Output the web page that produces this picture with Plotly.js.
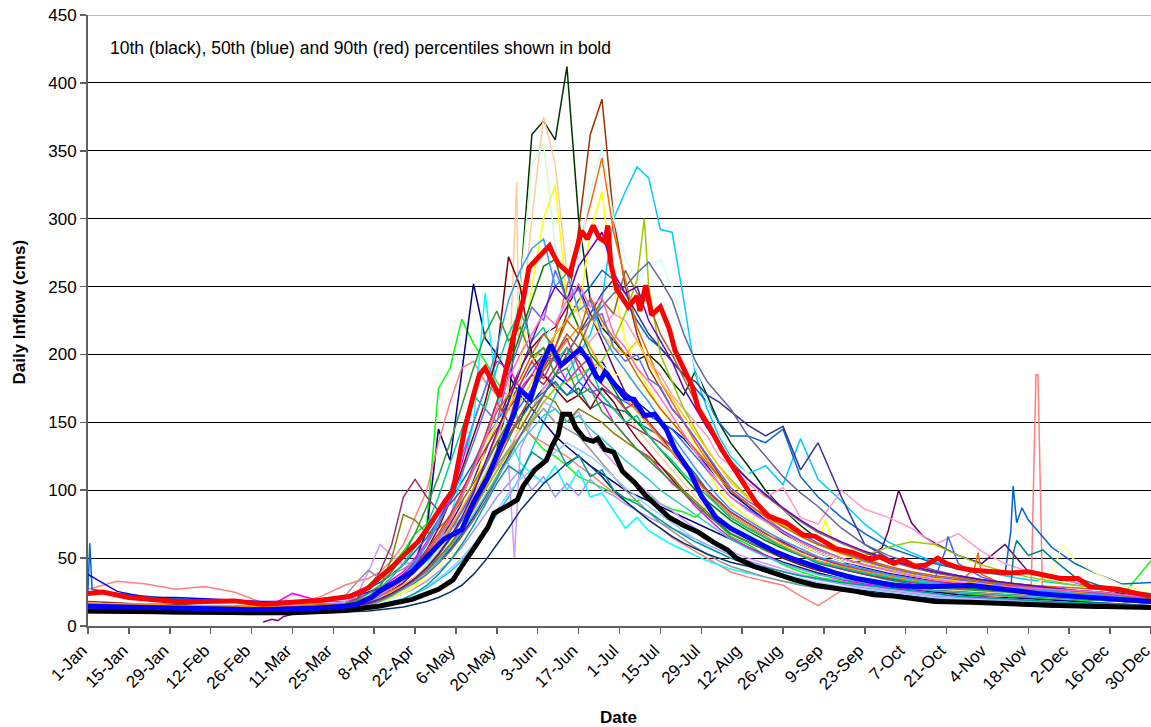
<!DOCTYPE html>
<html><head><meta charset="utf-8">
<script src="https://cdn.plot.ly/plotly-3.0.1.min.js"></script>
<style>html,body{margin:0;padding:0;overflow:hidden;background:#fff}#chart{width:1151px;height:727px}</style>
</head><body><div id="chart"></div>
<script>
// ---- shared day grid (day of year, 0 = 1-Jan) ----
const DAYS = [0,10,20,30,40,50,60,70,80,
  88,92,96,100,104,108,112,116,120,124,128,132,136,140,144,148,152,156,160,164,168,172,176,180,184,188,192,196,200,204,208,212,216,220,
  226,232,238,244,250,
  258,266,274,282,290,298,306,314,322,330,338,346,354,364];

const TICK_DAYS = [0,14,28,42,56,70,84,98,112,126,140,154,168,182,196,210,224,238,252,266,280,294,308,322,336,350,364];
const TICK_LABELS = ['1-Jan','15-Jan','29-Jan','12-Feb','26-Feb','11-Mar','25-Mar','8-Apr','22-Apr','6-May','20-May','3-Jun','17-Jun','1-Jul','15-Jul','29-Jul','12-Aug','26-Aug','9-Sep','23-Sep','7-Oct','21-Oct','4-Nov','18-Nov','2-Dec','16-Dec','30-Dec'];

// ---- yearly series (cms) on DAYS ----
const y01 = [14,13,13,12,12,12,11,12,13, 14,16,18,22,26,30,36,42,50,58,70,88,110,130,165,250,362,372,358,412,300,240,220,210,200,196,200,192,180,170,188,170,150,135, 118,100,86,74,64, 55,48,42,38,34,32,30,28,26,25,23,22,20,19];
const y02 = [18,17,16,16,15,15,14,15,16, 15,17,19,22,26,30,34,40,48,56,66,80,95,110,125,150,175,190,205,230,292,362,388,300,250,215,190,175,160,150,138,125,112,100, 88,78,68,60,54, 48,43,39,36,33,31,29,27,26,24,22,21,20,18];
const y03 = [13,12,12,11,11,11,11,12,12, 12,13,14,16,18,20,24,28,34,40,48,58,70,82,95,110,130,150,170,185,200,215,240,300,320,338,330,292,290,240,185,160,140,125, 112,118,104,138,108, 92,75,62,54,47,44,40,37,34,32,30,28,26,24];
const y04 = [15,14,14,13,13,12,12,13,15, 17,22,30,38,45,55,68,75,175,190,226,208,195,180,168,150,140,130,125,118,110,106,102,98,94,92,96,90,86,84,80,88,75,66, 60,52,45,40,36, 33,30,28,27,25,24,23,22,21,20,19,19,22,48];
const y05 = [12,12,11,11,11,10,10,11,12, 13,15,18,22,28,36,48,70,145,122,185,252,212,200,185,170,160,150,140,132,125,118,112,106,100,96,92,88,84,80,76,72,68,64, 58,52,47,43,39, 35,32,29,27,25,23,22,21,20,19,18,17,16,15];
const y06 = [27,33,31,27,29,25,17,15,22, 30,33,35,40,48,60,80,100,135,165,190,195,180,170,160,150,140,135,130,125,118,112,105,98,92,85,78,72,65,60,55,50,45,40, 36,33,30,22,15, 26,24,22,21,20,20,21,22,27,27,24,22,20,18];
const y07 = [14,13,13,12,12,12,12,24,18, 18,20,24,28,34,40,50,62,78,95,120,150,175,195,190,175,185,200,195,180,190,175,165,150,140,130,125,115,105,98,88,80,72,65, 58,52,46,42,38, 34,31,29,27,26,25,24,23,22,21,20,19,18,17];
const y08 = [13,12,12,12,11,11,11,12,13, 14,16,18,22,26,32,40,50,62,75,90,108,128,150,170,190,205,215,220,235,250,230,210,190,172,160,150,140,128,118,108,100,92,84, 76,68,62,55,50, 45,48,70,76,61,52,46,60,40,36,32,28,24,21];
const y09 = [26,24,22,20,19,18,17,18,20, 22,25,28,32,38,45,55,65,78,92,105,120,138,150,165,178,190,200,215,225,240,250,262,255,240,225,212,205,195,185,175,165,150,140, 140,135,145,110,95, 80,68,58,52,46,42,40,38,78,58,46,38,31,32];
const y10 = [38,25.5,21,21,20,19,18,18,19, 20,22,25,28,32,38,45,54,62,72,85,98,110,125,140,155,165,175,185,178,170,185,195,180,172,165,158,150,145,138,128,118,108,98, 88,78,68,60,54, 48,43,39,36,33,31,29,27,26,25,24,23,21,20];
const y11 = [12,11,11,11,10,10,10,11,12, 13,14,16,18,21,25,30,38,48,62,80,100,130,150,160,190,250,300,325,240,230,290,320,250,210,190,175,160,150,140,128,115,100,90, 80,70,60,52,60, 45,40,36,33,31,29,27,26,25,24,23,22,21,20];
const y12 = [12,11,11,10,10,10,10,11,11, 12,13,15,18,22,28,35,45,60,80,110,150,245,170,140,120,112,105,118,100,115,95,98,85,72,80,70,65,60,56,52,48,45,42, 39,36,33,31,29, 27,25,23,21,20,19,18,18,17,17,16,15,15,14];
const y13 = [11,11,10,10,10,9,9,10,11, 12,13,15,17,20,24,28,33,40,48,58,70,82,95,105,115,100,110,95,105,96,108,100,96,90,85,80,76,72,68,64,60,56,52, 48,44,40,37,34, 31,28,26,24,22,21,20,19,18,17,16,15,15,14];
const y14 = [14,13,13,12,12,12,12,13,15, 18,22,40,60,52,45,48,55,62,72,85,98,110,118,120,130,150,165,160,150,158,140,130,120,112,105,98,90,85,78,72,66,60,55, 50,46,42,38,35, 32,29,27,25,23,22,21,20,19,18,17,16,16,15];
const y15 = [13,12,12,12,11,11,11,12,13, 14,16,19,22,26,30,36,44,54,65,78,92,108,125,140,155,170,190,215,250,280,310,345,290,255,220,200,180,165,150,135,122,110,100, 90,80,70,62,56, 50,45,41,37,34,32,38,30,28,26,25,23,22,20];
const y16 = [17,16,16,15,15,14,14,15,16, 14,16,19,23,28,34,42,52,64,78,95,115,135,150,175,215,300,375,340,260,230,205,185,170,158,145,135,125,115,105,95,86,78,70, 62,55,50,45,41, 37,34,31,29,27,26,25,24,23,22,21,20,19,18];
const y17 = [13,12,12,12,11,11,11,12,13, 13,15,17,20,24,29,36,45,56,70,88,110,135,165,200,250,340,355,280,240,220,200,185,170,160,150,140,130,120,110,100,92,84,76, 68,60,54,48,44, 40,36,33,30,28,27,26,25,24,23,22,21,20,19];
const y18 = [12,12,11,11,11,10,10,11,12, 12,14,16,19,23,28,34,42,52,64,78,95,115,135,155,175,195,210,225,240,270,320,352,300,270,255,265,270,250,220,190,165,145,128, 112,98,86,76,68, 60,54,48,44,40,37,34,32,30,28,26,24,22,20];
const y19 = [12,11,11,11,10,10,10,11,12, 12,13,15,17,20,24,29,35,43,52,64,78,95,112,130,148,165,180,190,200,205,200,192,185,185,178,170,162,155,145,132,120,108,96, 86,76,67,60,54, 48,44,40,37,34,32,31,30,28,38,48,38,30,25];
const y20 = [13,12,12,12,11,11,11,12,13, 13,15,17,20,24,29,35,42,50,60,72,85,100,115,130,145,160,175,185,190,200,210,220,230,225,210,195,185,170,160,150,140,125,118, 105,95,102,80,75, 100,86,80,72,60,68,55,46,40,36,32,29,26,23];
const y21 = [14,13,13,12,12,12,11,12,13, 13,15,17,20,24,28,34,40,48,57,68,80,95,110,125,140,155,170,185,200,215,230,245,255,245,230,215,205,195,185,180,170,165,158, 148,140,147,115,135, 95,60,50,44,40,37,34,32,30,28,26,24,22,20];
const y22 = [14,13,13,12,12,12,12,13,14, 14,16,19,23,28,34,40,48,58,70,84,100,118,135,150,162,175,185,178,170,180,172,175,170,165,160,155,150,145,135,125,115,105,95, 86,78,70,63,57, 50,45,41,38,35,46,36,31,29,27,25,24,22,20];
const y23 = [12,12,11,11,11,10,10,11,12, 13,14,16,19,23,28,34,42,52,64,78,95,112,128,140,152,165,172,180,170,175,160,165,160,158,150,145,140,132,122,112,100,90,82, 74,66,58,52,46, 42,38,34,31,29,28,27,27,52,50,36,30,25,21];
const y24 = [16,15,15,14,14,14,13,14,15, 16,20,28,40,60,95,108,95,85,90,100,115,130,145,160,172,185,178,190,205,195,180,170,160,150,145,140,135,128,118,108,98,88,80, 72,65,58,52,47, 42,38,35,32,30,28,27,26,25,24,23,22,21,20];
const y25 = [13,12,12,12,11,11,11,12,13, 14,16,20,28,50,82,78,68,72,80,92,105,120,135,150,145,160,170,165,150,160,155,150,142,136,130,124,118,110,100,92,84,76,68, 62,56,50,45,41, 37,33,30,28,26,25,24,23,22,21,20,19,18,17];
const y26 = [14,13,13,12,12,12,12,18,20, 22,32,41,35,38,42,48,55,62,70,80,92,105,118,130,140,150,160,150,145,140,130,120,110,100,92,84,76,70,64,58,53,48,44, 40,36,33,30,28, 26,24,22,21,20,19,18,18,17,17,16,16,15,15];
const y27 = [10,10,9.5,9,9,9,8.5,9,9.5, 10,10.5,11,12,13,14,16,18,21,25,30,38,48,60,72,85,95,105,112,120,125,118,110,100,92,85,78,72,66,61,57,53,50,47, 44,40,37,34,31, 28,26,24,22,20,18,17,16,15,14,14,13,13,13];
const y28 = [11,11,10,10,10,10,9.5,10,10.5, 11,12,13,15,17,20,24,29,35,42,50,60,72,85,98,108,115,122,128,135,130,125,118,110,102,95,88,82,76,70,64,58,54,50, 46,42,38,35,32, 29,27,25,23,21,20,19,18,17,16,15,15,14,14];
const y29 = [13,12,12,12,11,11,11,12,13, 14,16,19,23,28,35,44,56,72,92,115,140,165,200,272,250,200,185,175,165,170,160,175,165,150,138,128,118,108,98,90,82,75,68, 62,56,50,45,41, 37,33,30,28,26,25,24,23,22,21,20,19,18,17];
const y30 = [12,12,11,11,11,10,10,11,12, 13,15,17,20,24,29,35,42,50,60,72,86,100,115,128,140,152,165,175,180,185,190,195,210,230,255,250,200,180,160,145,130,118,108, 95,84,74,66,60, 54,52,58,62,60,52,45,40,36,33,30,28,26,23];
const y31 = [13,12,12,12,11,11,11,12,13, 13,14,16,19,23,27,32,38,46,55,66,78,92,108,125,140,155,170,185,200,215,225,235,245,250,260,268,255,240,215,195,180,170,160, 140,125,110,98,88, 72,60,52,46,41,37,34,31,29,27,25,23,21,19];
const y32 = [13,12,12,11,11,11,11,12,13, 13,15,18,21,25,30,36,44,54,66,80,95,112,130,148,165,180,200,215,225,235,228,215,205,200,210,195,180,168,155,142,130,118,106, 94,84,75,67,60, 53,47,42,38,35,33,31,29,27,26,25,24,22,20];
const y33 = [14,13,13,12,12,12,12,13,14, 14,16,19,23,28,34,42,52,64,78,95,115,140,165,190,215,240,265,270,240,220,200,190,175,160,150,140,130,120,110,100,92,85,78, 70,63,57,52,47, 43,39,36,33,31,29,27,26,25,24,23,22,21,20];
const y34 = [12,11,11,11,10,10,10,11,12, 12,13,15,18,22,27,33,40,48,58,70,82,96,110,122,135,145,155,160,150,155,145,138,130,122,115,108,100,94,88,82,76,70,64, 57,51,46,42,38, 35,32,30,28,26,25,24,23,22,21,20,19,18,17];
const y35 = [17,16,16,15,15,15,14,15,17, 15,17,20,24,29,35,42,50,60,72,86,102,120,140,160,178,195,205,198,210,220,205,190,178,168,158,148,138,128,118,108,98,90,82, 74,66,59,53,48, 44,40,37,34,32,30,29,28,27,26,25,24,23,21];
const y36 = [13,12,12,12,11,11,11,12,13, 14,16,19,24,30,38,48,60,75,92,112,135,160,150,185,210,235,225,262,240,248,225,230,205,195,200,182,176,160,150,138,126,114,102, 92,84,76,68,61, 54,48,43,39,36,34,32,30,28,27,26,25,23,21];
const y37 = [14,13,13,12,12,12,12,13,14, 15,18,22,28,36,46,58,74,95,120,145,170,160,190,215,232,210,220,195,205,180,190,170,160,150,155,140,130,122,112,104,96,88,80, 72,65,58,52,47, 43,39,36,33,31,29,28,27,26,25,24,23,22,20];
const y38 = [13,12,12,11,11,11,11,12,13, 13,14,16,19,23,28,34,41,50,60,72,86,102,120,138,155,170,188,200,215,205,225,240,230,262,245,238,215,200,182,165,150,136,122, 108,96,86,77,69, 61,54,48,43,39,36,33,31,29,27,26,24,22,20];
const y39 = [15,14,14,13,13,13,13,14,15, 16,18,21,25,31,38,46,56,68,82,98,118,140,165,150,178,195,182,200,212,190,198,178,170,160,165,150,140,132,120,110,100,92,84, 76,68,61,55,50, 45,41,38,35,33,31,30,29,28,27,26,25,23,21];
const y40 = [12,12,11,11,11,10,10,11,12, 13,15,18,22,28,36,46,60,78,100,125,150,175,205,240,262,278,285,250,260,232,240,215,200,188,176,165,152,140,128,116,105,95,86, 78,70,63,57,51, 46,42,38,35,32,30,29,28,27,26,24,23,21,19];
const y41 = [16,15,15,14,14,14,13,14,16, 16,18,21,25,30,36,44,54,66,80,96,115,136,158,170,182,200,215,205,225,215,242,225,212,200,185,172,160,150,140,130,120,110,100, 90,81,73,66,60, 54,49,44,40,37,35,33,31,30,29,28,27,25,23];
const y42 = [11,11,10,10,10,10,9.5,10,10.5, 11,12,13,15,17,20,24,30,38,48,60,74,90,105,118,112,128,122,135,118,126,110,115,100,94,90,84,78,72,67,62,58,54,50, 46,43,40,37,35, 32,30,28,26,24,22,21,20,19,18,17,17,16,15];
const y43 = [13,12,12,12,11,11,11,12,13, 13,15,17,20,24,29,35,43,53,65,80,98,120,142,165,188,210,232,250,240,265,278,290,260,245,250,225,210,195,175,160,146,133,120, 108,97,87,78,70, 62,55,49,44,40,37,34,32,30,28,26,25,23,21];
const y44 = [14,13,13,12,12,12,12,13,14, 16,19,24,30,40,52,68,88,110,135,162,190,215,232,210,220,198,205,185,190,170,175,158,150,140,130,122,114,106,98,90,82,75,68, 62,56,51,46,42, 38,35,32,30,28,27,26,25,24,23,22,21,20,19];
const y45 = [13,12,12,12,11,11,11,12,13, 14,16,19,23,28,34,42,52,64,78,95,115,138,160,182,200,215,230,222,240,252,235,242,215,205,190,180,168,155,142,128,116,105,95, 85,77,69,62,56, 50,45,41,37,34,32,30,29,28,27,26,25,23,21];

// extra daily readings (short events) for some years
const x06d = [323,324.6,325.3,326.8], x06v = [29,185,185,30];
const x08d = [272,277.6,286],         x08v = [58,100,66];
const x09d = [0.6,1.4,316,316.8,318,319.8], x09v = [61,27,70,103,76,87];
const x10d = [4],      x10v = [33];
const x11d = [252.5],  x11v = [78];
const x14d = [146],    x14v = [50];
const x15d = [303.5,304.8], x15v = [42,54];
const x16d = [146.8,147.5], x16v = [327,205];
const x19d = [333.7],  x19v = [60];
const x22d = [293.5,294.5], x22v = [55,66];
const x23d = [316,317,318,327], x23v = [28,55,63,56];
const x30d = [190.5],  x30v = [300];
// partial year starting in March
const partialDays = [60,63,65,67,69,72,76,80];
const partialVals = [3,5,4,7,8,10,11,12];

// percentiles
const P90_DAYS = [0,5,14,25,30,40,50,60,70,80,90,96,100,104,109,113,116,120,122,125,129,132,134,136,139,141,143.5,146,149,151,154,158,159,161,165,166,169,171,173,175,177,178,179,181,185,188,189,191,193,196,199,201,205,207,209,213,217,221,224,226,229,233,239,245,249,253,256,262,268,271,276,279,283,287,291,294,298,303,310,316,322,327,333,339,343,348,353,359,364];
const P90 = [24,25,21,19,18,18,18.5,16,17.5,19,22,28,36,43,54,62,71,85,91,100,145,170,185,190,178,169,192,216,240,264,271,280,275,267,259,267,291,285,295,286,283,295,267,248,235,243,232,251,229,235,219,203,184,176,160,146,130,117,106,100,90,81,76,67,66,61,57,54,49,51,46,49,44,45,50,46,43,41,40,39,40,38,35,35,29,28,27,24,22];
const P50_DAYS = [0,14,34,56,78,88,92,97,100,105,111,116,122,128,132,137,141,146,148,151.5,155,157,158.5,162,165,168.5,171,174,175.5,177,180,184,187,190.5,194,198,201,206,210,215,220,226,229,235,242,249,256,263,269,276,283,290,302,313,325,336,348,359,364];
const P50 = [14.6,13.6,13,12,13,14.6,16,21,26,32,40,51,64,71,91,110,130,157,174,167,191,200,207,192,197,204,197,184,181,187,179,168,167,155,156,145,130,114,96,80,72,65,61,55,49,44,39,35,33,30,29,29,30,27,24,22,20.6,19,18];
const P10_DAYS = [0,14,34,56,70,80,88,100,111,120,125,128,130,133,137,139,144,147,149,153,157,159,161,162.5,165,167,170,173,174.5,177,180,183,187,191,195,199,204,209,214,219,222,228,235,242,249,256,263,269,276,283,290,302,313,325,336,348,364];
const P10 = [11,10.5,10,9.7,9.7,10.5,11.5,14.7,19.6,27,34,44,51,60,73,83,89,93,103,115,122,133,141,156,156,146,138,136,138,130,128,114,106,96,88,80,74,69,62,56,50,44,39,34,30,28,25.5,23,22,20,18,17.4,17,15.7,15,14.5,13.7];

// ---- styles ----
const COLORS = ['#003300','#993300','#00CCFF','#00FF00','#000080','#FF8080','#FF00FF','#660066','#0066CC','#0000FF',
  '#FFFF00','#00FFFF','#9999FF','#CC99FF','#FF6600','#FFCC99','#CCFFCC','#CCFFFF','#FFFF99','#FF99CC',
  '#333399','#3366FF','#008080','#993366','#808000','#969696','#003366','#99CCFF','#800000','#99CC00',
  '#666699','#FFCC00','#008000','#33CCCC','#FF9900','#6666FF','#00CC99','#996633','#CC3366','#3399FF',
  '#CC6600','#009999','#6600CC','#339933','#FF66CC'];
const YEARS = [y01,y02,y03,y04,y05,y06,y07,y08,y09,y10,y11,y12,y13,y14,y15,y16,y17,y18,y19,y20,
  y21,y22,y23,y24,y25,y26,y27,y28,y29,y30,y31,y32,y33,y34,y35,y36,y37,y38,y39,y40,y41,y42,y43,y44,y45];
const EXTRAS = {5:[x06d,x06v],7:[x08d,x08v],8:[x09d,x09v],9:[x10d,x10v],10:[x11d,x11v],13:[x14d,x14v],
  14:[x15d,x15v],15:[x16d,x16v],18:[x19d,x19v],21:[x22d,x22v],22:[x23d,x23v],29:[x30d,x30v]};

function merge(days, vals, ex){
  const pts = days.map((d,i)=>[d, vals[i]]);
  if (ex) ex[0].forEach((d,i)=>pts.push([d, ex[1][i]]));
  pts.sort((a,b)=>a[0]-b[0]);
  return {x: pts.map(p=>p[0]), y: pts.map(p=>p[1])};
}

const traces = [];
YEARS.forEach((vals, i) => {
  const m = merge(DAYS, vals, EXTRAS[i]);
  traces.push({type:'scatter', mode:'lines', x:m.x, y:m.y, line:{color:COLORS[i], width:1.5}, hoverinfo:'skip'});
});
traces.push({type:'scatter', mode:'lines', x:partialDays, y:partialVals, line:{color:'#800080', width:1.5}, hoverinfo:'skip'});
traces.push({type:'scatter', mode:'lines', x:P10_DAYS, y:P10, line:{color:'#000000', width:5}});
traces.push({type:'scatter', mode:'lines', x:P50_DAYS, y:P50, line:{color:'#0000FF', width:5}});
traces.push({type:'scatter', mode:'lines', x:P90_DAYS, y:P90, line:{color:'#FF0000', width:5}});

const FONT = 'Liberation Sans, Arial, Helvetica, sans-serif';
const layout = {
  width: 1151, height: 727,
  margin: {l: 88, r: 0, t: 15, b: 101},
  paper_bgcolor: '#ffffff', plot_bgcolor: '#ffffff',
  showlegend: false,
  font: {family: FONT, size: 17, color: '#000'},
  xaxis: {range: [0, 364], tickmode: 'array', tickvals: TICK_DAYS, ticktext: TICK_LABELS, tickangle: -45,
    ticks: 'outside', ticklen: 6, tickwidth: 1.5, tickcolor: '#606060', ticklabeloverflow: 'allow', ticklabelshift: -6,
    showline: true, linecolor: '#606060', linewidth: 2, showgrid: false, zeroline: false,
    tickfont: {family: FONT, size: 17, color: '#000'}},
  yaxis: {range: [0, 450], tickmode: 'linear', tick0: 0, dtick: 50,
    ticks: 'outside', ticklen: 6, tickwidth: 1.5, tickcolor: '#606060',
    showline: true, linecolor: '#606060', linewidth: 2, gridcolor: '#000000', gridwidth: 1, zeroline: false,
    tickfont: {family: FONT, size: 17, color: '#000'}},
  shapes: [{type:'line', xref:'paper', yref:'y', x0:0, x1:1, y0:450, y1:450, line:{color:'#a0a0a0', width:1.5}, layer:'above'}],
  annotations: [
    {text:'10th (black), 50th (blue) and 90th (red) percentiles shown in bold', xref:'paper', yref:'paper',
     x:0.0188, y:0.946, xanchor:'left', yanchor:'middle', showarrow:false, font:{family:FONT, size:17.5, color:'#000'}},
    {text:'<b>Date</b>', xref:'paper', yref:'paper', x:0.4986, y:-0.149, xanchor:'center', yanchor:'middle',
     showarrow:false, font:{family:FONT, size:17, color:'#000'}},
    {text:'<b>Daily Inflow (cms)</b>', xref:'paper', yref:'paper', x:-0.064, y:0.5147, xanchor:'center', yanchor:'middle',
     textangle:-90, showarrow:false, font:{family:FONT, size:17, color:'#000'}}
  ]
};
Plotly.newPlot('chart', traces, layout, {staticPlot: true, displayModeBar: false});
</script>
</body></html>
